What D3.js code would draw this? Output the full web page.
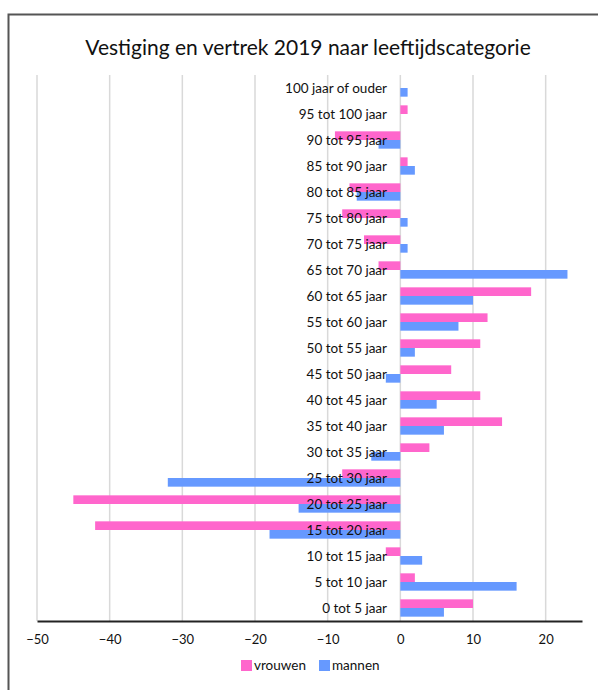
<!DOCTYPE html>
<html><head><meta charset="utf-8">
<script src="https://cdn.jsdelivr.net/npm/d3@7"></script>
<style>body{margin:0;background:#fff}svg{display:block}</style>
</head><body>
<svg id="c" width="598" height="690"></svg>
<script>
const categories = ["100 jaar of ouder","95 tot 100 jaar","90 tot 95 jaar","85 tot 90 jaar","80 tot 85 jaar","75 tot 80 jaar","70 tot 75 jaar","65 tot 70 jaar","60 tot 65 jaar","55 tot 60 jaar","50 tot 55 jaar","45 tot 50 jaar","40 tot 45 jaar","35 tot 40 jaar","30 tot 35 jaar","25 tot 30 jaar","20 tot 25 jaar","15 tot 20 jaar","10 tot 15 jaar","5 tot 10 jaar","0 tot 5 jaar"];
const vrouwen = [0,1,-9,1,-7,-8,-5,-3,18,12,11,7,11,14,4,-8,-45,-42,-2,2,10];
const mannen  = [1,0,-3,2,-6,1,1,23,10,8,2,-2,5,6,-4,-32,-14,-18,3,16,6];
const ticks = [-50,-40,-30,-20,-10,0,10,20];
const seriesNames = ["vrouwen","mannen"];
const colors = ["#FF66CC","#6699FF"];

const svg = d3.select("#c");
const font = "Lato, 'Open Sans', sans-serif";
// frame
svg.append("rect").attr("x",8.5).attr("y",14.5).attr("width",620).attr("height",700)
  .attr("fill","none").attr("stroke","#555").attr("stroke-width",2);

svg.append("text").attr("x",308).attr("y",55).attr("text-anchor","middle")
  .attr("font-family",font).attr("font-size",21).attr("fill","#111")
  .text("Vestiging en vertrek 2019 naar leeftijdscategorie");

const x = d3.scaleLinear().domain([-50,25]).range([37,582]);
const y = d3.scaleBand().domain(categories).range([75,621]);
const inner = d3.scaleBand().domain(seriesNames).range([0,y.bandwidth()]).paddingOuter(0.5).paddingInner(0);

// grid
svg.append("g").selectAll("line").data(ticks).join("line")
  .attr("x1",d=>x(d)).attr("x2",d=>x(d)).attr("y1",75).attr("y2",621)
  .attr("stroke","#D9D9D9").attr("stroke-width",1.5);

const data = [vrouwen, mannen];
data.forEach((vals,si)=>{
  svg.append("g").selectAll("rect").data(categories).join("rect")
    .attr("x",(c,i)=>x(Math.min(0,vals[i])))
    .attr("width",(c,i)=>Math.abs(x(vals[i])-x(0)))
    .attr("y",c=>y(c)+inner(seriesNames[si]))
    .attr("height",inner.bandwidth())
    .attr("fill",colors[si]);
});

// category labels
svg.append("g").selectAll("text").data(categories).join("text")
  .attr("x",387).attr("y",c=>y(c)+y.bandwidth()/2).attr("dy","0.35em")
  .attr("text-anchor","end").attr("font-family",font).attr("font-size",13.5).attr("fill","#111")
  .text(c=>c);

// axis
const axis = d3.axisBottom(x).tickValues(ticks).tickSize(0).tickPadding(14).tickFormat(d3.format("d"));
const ag = svg.append("g").attr("transform","translate(0,621)").call(axis);
ag.select(".domain").attr("stroke","#222").attr("stroke-width",2);
ag.selectAll("text").attr("font-family",font).attr("font-size",13).attr("fill","#111");

// legend
const lg = svg.append("g");
const items = [{n:seriesNames[0],c:colors[0],x:241},{n:seriesNames[1],c:colors[1],x:319}];
items.forEach(it=>{
  lg.append("rect").attr("x",it.x).attr("y",660).attr("width",11).attr("height",11).attr("fill",it.c);
  lg.append("text").attr("x",it.x+13).attr("y",665.5).attr("dy","0.35em")
    .attr("font-family",font).attr("font-size",13.5).attr("fill","#111").text(it.n);
});
</script>
</body></html>
